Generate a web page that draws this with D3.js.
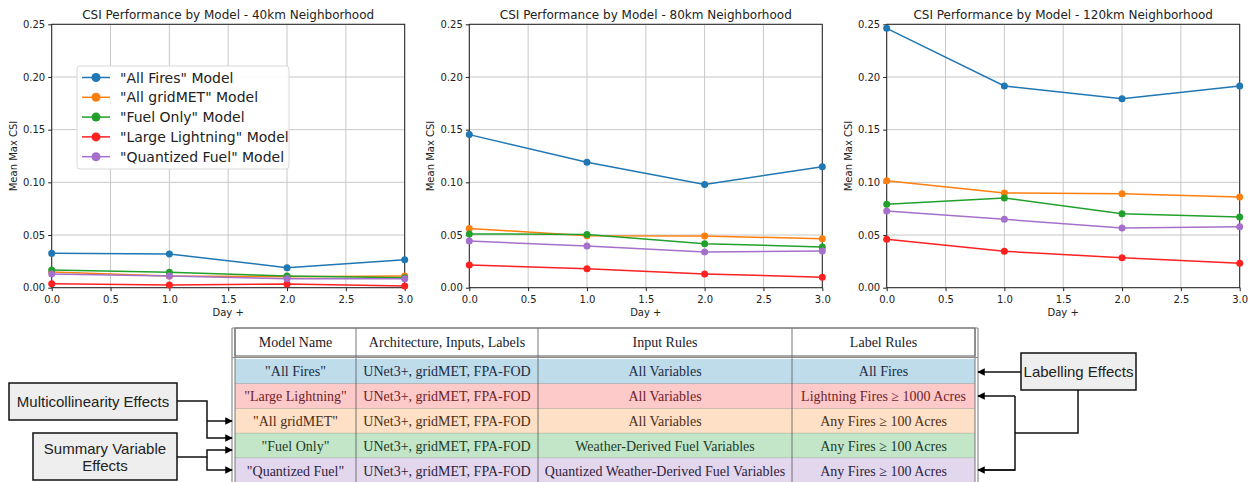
<!DOCTYPE html>
<html>
<head>
<meta charset="utf-8">
<script src="https://cdn.jsdelivr.net/npm/d3@7"></script>
<style>
  body { margin: 0; background: #fff; }
  svg text { font-family: "DejaVu Sans", sans-serif; }
</style>
</head>
<body>
<div id="chart"></div>
<script>
// ---- data ----
const days = [0, 1, 2, 3];
const models = ['"All Fires" Model', '"All gridMET" Model', '"Fuel Only" Model', '"Large Lightning" Model', '"Quantized Fuel" Model'];
const modelColors = ["#1f77b4", "#ff7f0e", "#22a02c", "#ff2020", "#a470cc"];
const panelTitles = ["CSI Performance by Model - 40km Neighborhood", "CSI Performance by Model - 80km Neighborhood", "CSI Performance by Model - 120km Neighborhood"];

const csi40 = [
  [0.0326, 0.0320, 0.0190, 0.0266],
  [0.0150, 0.0110, 0.0105, 0.0110],
  [0.0168, 0.0146, 0.0110, 0.0095],
  [0.0038, 0.0025, 0.0035, 0.0016],
  [0.0130, 0.0110, 0.0085, 0.0085]
];
const csi80 = [
  [0.1453, 0.1190, 0.0980, 0.1149],
  [0.0563, 0.0494, 0.0490, 0.0465],
  [0.0510, 0.0506, 0.0418, 0.0386],
  [0.0215, 0.0180, 0.0130, 0.0100],
  [0.0443, 0.0396, 0.0339, 0.0348]
];
const csi120 = [
  [0.2462, 0.1915, 0.1794, 0.1915],
  [0.1016, 0.0899, 0.0892, 0.0861],
  [0.0791, 0.0851, 0.0703, 0.0671],
  [0.0459, 0.0345, 0.0285, 0.0231],
  [0.0728, 0.0649, 0.0566, 0.0579]
];
const panelData = [csi40, csi80, csi120];
const xTicks = [0, 0.5, 1, 1.5, 2, 2.5, 3];
const yTicks = [0, 0.05, 0.10, 0.15, 0.20, 0.25];

const tableHeader = ["Model Name", "Architecture, Inputs, Labels", "Input Rules", "Label Rules"];
const tableRows = [
  ['"All Fires"', "UNet3+, gridMET, FPA-FOD", "All Variables", "All Fires"],
  ['"Large Lightning"', "UNet3+, gridMET, FPA-FOD", "All Variables", "Lightning Fires \u2265 1000 Acres"],
  ['"All gridMET"', "UNet3+, gridMET, FPA-FOD", "All Variables", "Any Fires \u2265 100 Acres"],
  ['"Fuel Only"', "UNet3+, gridMET, FPA-FOD", "Weather-Derived Fuel Variables", "Any Fires \u2265 100 Acres"],
  ['"Quantized Fuel"', "UNet3+, gridMET, FPA-FOD", "Quantized Weather-Derived Fuel Variables", "Any Fires \u2265 100 Acres"]
];
const rowFills = ["#bedcea", "#fdc9c9", "#fde0c6", "#c3e6c9", "#e3d7ed"];
const rowText = ["#1c2b45", "#6e1e2a", "#4d2e14", "#1d3b2a", "#2e2240"];

// ---- layout ----
const W = 1256, H = 482;
const svg = d3.select("#chart").append("svg").attr("width", W).attr("height", H);

const panelLeft = [51.7, 469.3, 886.7];
const plotW = 353, plotTop = 24.3, plotBottom = 287.7;

panelData.forEach((series, p) => {
  const x0 = panelLeft[p];
  const x = d3.scaleLinear().domain([0, 3]).range([x0, x0 + plotW]);
  const y = d3.scaleLinear().domain([0, 0.25]).range([plotBottom, plotTop]);
  const g = svg.append("g");

  // grid
  g.selectAll(".vg").data(xTicks).enter().append("line")
    .attr("x1", d => x(d)).attr("x2", d => x(d))
    .attr("y1", plotTop).attr("y2", plotBottom)
    .attr("stroke", "#c8c8c8").attr("stroke-width", 1);
  g.selectAll(".hg").data(yTicks).enter().append("line")
    .attr("x1", x0).attr("x2", x0 + plotW)
    .attr("y1", d => y(d)).attr("y2", d => y(d))
    .attr("stroke", "#c8c8c8").attr("stroke-width", 1);

  // axes
  const xa = g.append("g").attr("transform", `translate(0,${plotBottom})`)
    .call(d3.axisBottom(x).tickValues(xTicks).tickFormat(d3.format(".1f")).tickSize(3.5).tickSizeOuter(0));
  const ya = g.append("g").attr("transform", `translate(${x0},0)`)
    .call(d3.axisLeft(y).tickValues(yTicks).tickFormat(d3.format(".2f")).tickSize(3.5).tickSizeOuter(0));
  [xa, ya].forEach(a => {
    a.select(".domain").remove();
    a.selectAll("text").attr("font-size", 10).attr("fill", "#222").attr("font-family", "DejaVu Sans");
    a.selectAll("line").attr("stroke", "#222");
  });
  xa.selectAll("text").attr("dy", "0.9em");

  // frame
  g.append("rect").attr("x", x0).attr("y", plotTop).attr("width", plotW).attr("height", plotBottom - plotTop)
    .attr("fill", "none").attr("stroke", "#222").attr("stroke-width", 1);

  // title and labels
  g.append("text").attr("x", x0 + plotW / 2).attr("y", 19).attr("text-anchor", "middle")
    .attr("font-size", 12).attr("fill", "#222").text(panelTitles[p]);
  g.append("text").attr("x", x0 + plotW / 2).attr("y", 316).attr("text-anchor", "middle")
    .attr("font-size", 10).attr("fill", "#222").text("Day +");
  g.append("text").attr("transform", `translate(${x0 - 35},${(plotTop + plotBottom) / 2}) rotate(-90)`)
    .attr("text-anchor", "middle").attr("font-size", 10).attr("fill", "#222").text("Mean Max CSI");

  // lines
  const line = d3.line().x((d, i) => x(days[i])).y(d => y(d));
  series.forEach((vals, m) => {
    g.append("path").datum(vals).attr("d", line).attr("fill", "none")
      .attr("stroke", modelColors[m]).attr("stroke-width", 1.5);
    g.selectAll(".pt" + m).data(vals).enter().append("circle")
      .attr("cx", (d, i) => x(days[i])).attr("cy", d => y(d)).attr("r", 3.5)
      .attr("fill", modelColors[m]);
  });

  // legend on first panel
  if (p === 0) {
    const lg = g.append("g");
    lg.append("rect").attr("x", 77).attr("y", 66).attr("width", 212).attr("height", 103).attr("rx", 3)
      .attr("fill", "#fff").attr("fill-opacity", 0.9).attr("stroke", "#d8d8d8");
    models.forEach((name, m) => {
      const ly = 77.5 + m * 19.8;
      lg.append("line").attr("x1", 82).attr("x2", 110).attr("y1", ly).attr("y2", ly)
        .attr("stroke", modelColors[m]).attr("stroke-width", 1.5);
      lg.append("circle").attr("cx", 96).attr("cy", ly).attr("r", 4.5).attr("fill", modelColors[m]);
      lg.append("text").attr("x", 120).attr("y", ly + 5).attr("font-size", 14).attr("fill", "#222").text(name);
    });
  }
});

// ---- table ----
const colEdges = [235, 356, 538, 792, 975];
const headTop = 328, headBottom = 356, bodyTop = 359;
const rowH = 24.8;
const tg = svg.append("g").attr("font-family", "Liberation Serif, serif");

tg.append("rect").attr("x", colEdges[0]).attr("y", headTop).attr("width", colEdges[4] - colEdges[0])
  .attr("height", headBottom - headTop).attr("fill", "#fff").attr("stroke", "#555");
tableRows.forEach((row, r) => {
  const ry = bodyTop + r * rowH;
  tg.append("rect").attr("x", colEdges[0]).attr("y", ry).attr("width", colEdges[4] - colEdges[0])
    .attr("height", rowH).attr("fill", rowFills[r]);
  tg.append("line").attr("x1", colEdges[0]).attr("x2", colEdges[4]).attr("y1", ry + rowH).attr("y2", ry + rowH)
    .attr("stroke", "#8a8a8a").attr("stroke-width", 0.8);
  row.forEach((cell, c) => {
    tg.append("text").attr("x", (colEdges[c] + colEdges[c + 1]) / 2).attr("y", ry + rowH / 2 + 5)
      .attr("text-anchor", "middle").attr("font-size", 14).attr("fill", rowText[r])
      .style("font-family", "Liberation Serif, serif").text(cell);
  });
});
tableHeader.forEach((h, c) => {
  tg.append("text").attr("x", (colEdges[c] + colEdges[c + 1]) / 2).attr("y", (headTop + headBottom) / 2 + 5)
    .attr("text-anchor", "middle").attr("font-size", 14).attr("fill", "#1a1a2a")
    .style("font-family", "Liberation Serif, serif").text(h);
});
// vertical rules
const tableBottom = bodyTop + tableRows.length * rowH;
colEdges.slice(1, 4).forEach(cx => {
  tg.append("line").attr("x1", cx).attr("x2", cx).attr("y1", headTop).attr("y2", tableBottom)
    .attr("stroke", "#555").attr("stroke-width", 0.8);
});
[232, 235, 975, 978].forEach(cx => {
  tg.append("line").attr("x1", cx).attr("x2", cx).attr("y1", headTop).attr("y2", tableBottom)
    .attr("stroke", "#777").attr("stroke-width", 1);
});
tg.append("line").attr("x1", 232).attr("x2", 978).attr("y1", headBottom + 1.5).attr("y2", headBottom + 1.5)
  .attr("stroke", "#888").attr("stroke-width", 1);
tg.append("line").attr("x1", 232).attr("x2", 978).attr("y1", headTop).attr("y2", headTop)
  .attr("stroke", "#888").attr("stroke-width", 1);

// ---- callouts ----
svg.append("defs").append("marker").attr("id", "arr").attr("viewBox", "0 0 10 10")
  .attr("refX", 9).attr("refY", 5).attr("markerWidth", 5).attr("markerHeight", 5).attr("orient", "auto")
  .append("path").attr("d", "M0,0 L10,5 L0,10 z").attr("fill", "#000");

const cg = svg.append("g").attr("font-family", "Liberation Sans, Arial, sans-serif");
function box(x, y, w, h, lines) {
  cg.append("rect").attr("x", x).attr("y", y).attr("width", w).attr("height", h)
    .attr("fill", "#eeeeee").attr("stroke", "#111").attr("stroke-width", 1.5);
  lines.forEach((t, i) => {
    cg.append("text").attr("x", x + w / 2).attr("y", y + h / 2 + 5.5 + (i - (lines.length - 1) / 2) * 17)
      .attr("text-anchor", "middle").attr("font-size", 15).attr("fill", "#222")
      .style("font-family", "Liberation Sans, Arial, sans-serif").text(t);
  });
}
function path(pts, arrow) {
  cg.append("path").attr("d", d3.line()(pts)).attr("fill", "none").attr("stroke", "#111")
    .attr("stroke-width", 1.5).attr("marker-end", arrow ? "url(#arr)" : null);
}

box(9, 383, 168, 37, ["Multicollinearity Effects"]);
path([[177, 401], [207, 401], [207, 438], [232, 438]], true);
path([[207, 421], [232, 421]], true);

box(33, 433, 144, 47, ["Summary Variable", "Effects"]);
path([[177, 457], [207, 457], [207, 450], [232, 450]], true);
path([[207, 457], [207, 470], [232, 470]], true);

box(1021, 353, 115, 37, ["Labelling Effects"]);
path([[1021, 372], [978, 372]], true);
path([[1078, 390], [1078, 433], [1015, 433]], false);
path([[1015, 396], [1015, 470], [978, 470]], false);
path([[1015, 396], [978, 396]], true);
path([[1015, 470], [978, 470]], true);
</script>
</body>
</html>
